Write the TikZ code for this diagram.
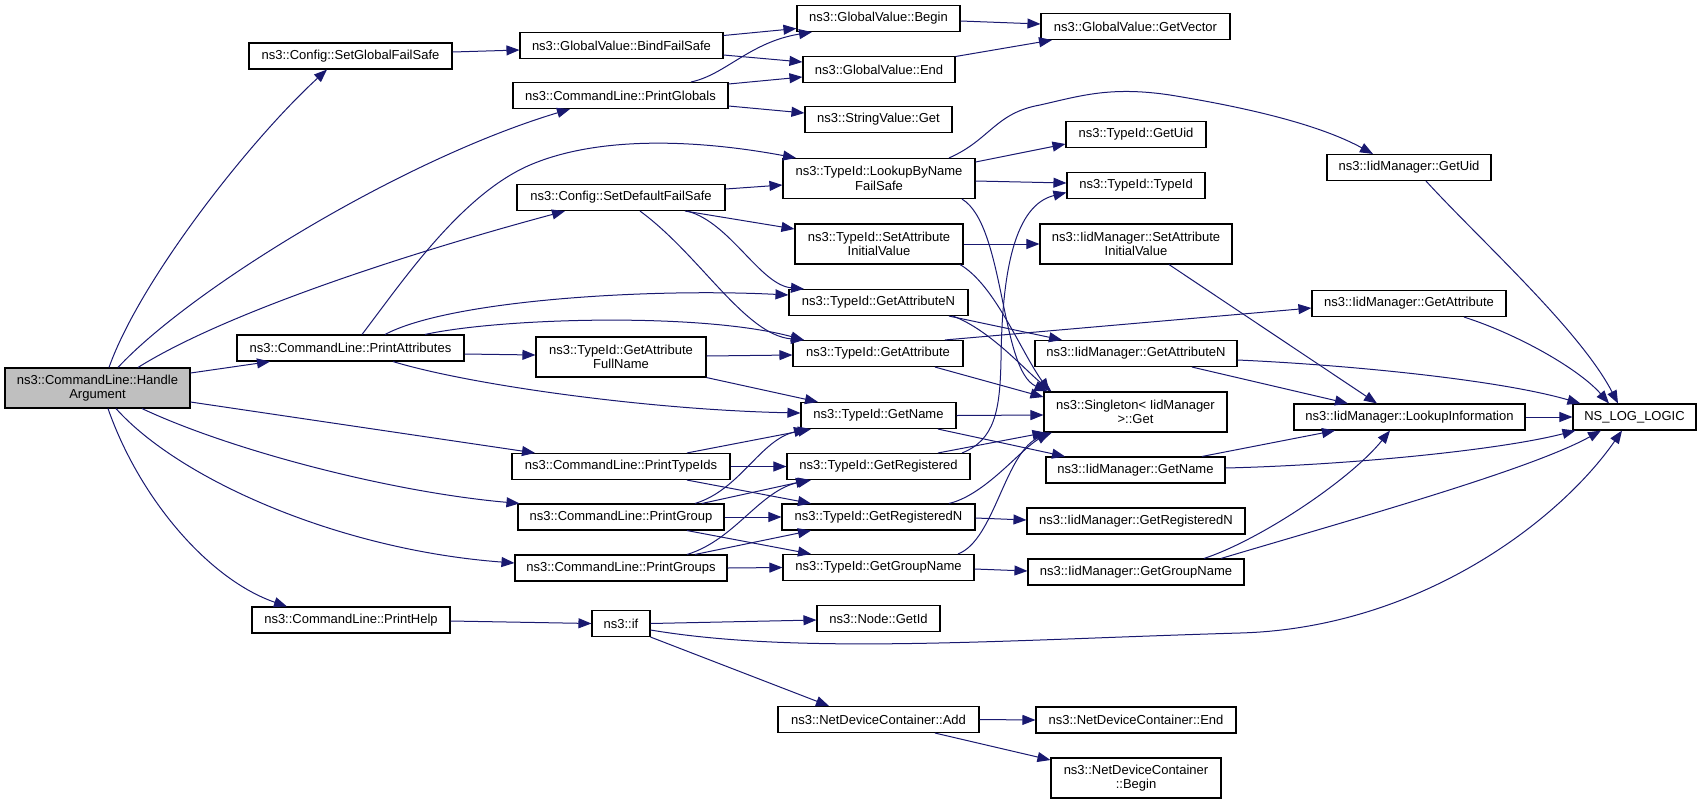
\documentclass[tikz,border=0pt]{standalone}
\usepackage{fontspec}
\setmainfont{Liberation Sans}
\usetikzlibrary{arrows.meta,calc}
\definecolor{edgeblue}{HTML}{191970}
\definecolor{rootgray}{HTML}{BFBFBF}
\tikzset{
  fn/.style={draw=black, line width=1.1pt, fill=white, inner sep=0pt, minimum height=26pt,
    align=center, font=\fontsize{13pt}{14.5pt}\selectfont},
  fntwo/.style={fn, minimum height=40pt},
  call/.style={draw=edgeblue, line width=1pt, -{Triangle[length=13pt,width=10pt]}}
}
\begin{document}
\begin{tikzpicture}[x=1pt,y=-1pt]
\useasboundingbox (0,0) rectangle (1701,804);
% nodes
\node[fntwo, fill=rootgray, minimum width=185pt] (HA) at (97.5,388) {ns3::CommandLine::Handle\\Argument};
\node[fn, minimum width=203pt] (SGFS) at (350.5,56) {ns3::Config::SetGlobalFailSafe};
\node[fn, minimum width=227pt] (PA) at (350.5,348) {ns3::CommandLine::PrintAttributes};
\node[fn, minimum width=198pt] (PH) at (351,620) {ns3::CommandLine::PrintHelp};
\node[fn, minimum width=203pt] (BFS) at (621.5,45.5) {ns3::GlobalValue::BindFailSafe};
\node[fn, minimum width=215pt] (PGl) at (620.5,95.5) {ns3::CommandLine::PrintGlobals};
\node[fn, minimum width=208pt] (SDFS) at (621,197.5) {ns3::Config::SetDefaultFailSafe};
\node[fntwo, minimum width=170pt] (TGAF) at (621,357) {ns3::TypeId::GetAttribute\\FullName};
\node[fn, minimum width=218pt] (PTI) at (621,466.5) {ns3::CommandLine::PrintTypeIds};
\node[fn, minimum width=206pt] (PGr) at (621,517) {ns3::CommandLine::PrintGroup};
\node[fn, minimum width=212pt] (PGs) at (621,568) {ns3::CommandLine::PrintGroups};
\node[fn, minimum width=58pt] (IF) at (621,623.5) {ns3::if};
\node[fn, minimum width=163pt] (GVB) at (878.5,18.5) {ns3::GlobalValue::Begin};
\node[fn, minimum width=152pt] (GVE) at (879,69.5) {ns3::GlobalValue::End};
\node[fn, minimum width=147pt] (SVG) at (878.5,119.5) {ns3::StringValue::Get};
\node[fntwo, minimum width=192pt] (LBN) at (879,178.5) {ns3::TypeId::LookupByName\\FailSafe};
\node[fntwo, minimum width=168pt] (TSAI) at (879,244) {ns3::TypeId::SetAttribute\\InitialValue};
\node[fn, minimum width=179pt] (TGAN) at (878.5,302.5) {ns3::TypeId::GetAttributeN};
\node[fn, minimum width=170pt] (TGA) at (878,353.5) {ns3::TypeId::GetAttribute};
\node[fn, minimum width=155pt] (TGN) at (878.5,415.5) {ns3::TypeId::GetName};
\node[fn, minimum width=183pt] (TGR) at (878.5,466.5) {ns3::TypeId::GetRegistered};
\node[fn, minimum width=193pt] (TGRN) at (878.5,517) {ns3::TypeId::GetRegisteredN};
\node[fn, minimum width=191pt] (TGGN) at (878.5,567.5) {ns3::TypeId::GetGroupName};
\node[fn, minimum width=123pt] (NGI) at (878.5,618.5) {ns3::Node::GetId};
\node[fn, minimum width=201pt] (NDCA) at (878.5,719.5) {ns3::NetDeviceContainer::Add};
\node[fn, minimum width=189pt] (GVV) at (1135.5,26.5) {ns3::GlobalValue::GetVector};
\node[fn, minimum width=140pt] (TGU) at (1136,134.5) {ns3::TypeId::GetUid};
\node[fn, minimum width=138pt] (TTI) at (1136,185.5) {ns3::TypeId::TypeId};
\node[fntwo, minimum width=192pt] (ISAI) at (1136,244) {ns3::IidManager::SetAttribute\\InitialValue};
\node[fn, minimum width=202pt] (IGAN) at (1136,353.5) {ns3::IidManager::GetAttributeN};
\node[fntwo, minimum width=183pt] (SG) at (1135.5,412) {ns3::Singleton< IidManager\\>::Get};
\node[fn, minimum width=179pt] (IGN) at (1135.5,470) {ns3::IidManager::GetName};
\node[fn, minimum width=218pt] (IGRN) at (1136,521) {ns3::IidManager::GetRegisteredN};
\node[fn, minimum width=216pt] (IGGN) at (1136,572) {ns3::IidManager::GetGroupName};
\node[fn, minimum width=200pt] (NDCE) at (1136,720) {ns3::NetDeviceContainer::End};
\node[fntwo, minimum width=170pt] (NDCB) at (1136,778) {ns3::NetDeviceContainer\\::Begin};
\node[fn, minimum width=164pt] (IGU) at (1409,167.5) {ns3::IidManager::GetUid};
\node[fn, minimum width=194pt] (IGA) at (1409,303.5) {ns3::IidManager::GetAttribute};
\node[fn, minimum width=231pt] (ILI) at (1409.5,417) {ns3::IidManager::LookupInformation};
\node[fn, minimum width=123pt] (NLL) at (1634.5,417) {NS\_LOG\_LOGIC};
% edges from HandleArgument
\draw[call] ($(HA.north)+(11.5,0)$) .. controls (140,280) and (250,140) .. ($(SGFS.south)+(-23.5,0)$);
\draw[call] ($(HA.north)+(20.5,0)$) .. controls (190,290) and (400,160) .. ($(PGl.south)+(-50.5,0)$);
\draw[call] ($(HA.north)+(40.5,0)$) .. controls (230,310) and (420,250) .. ($(SDFS.south)+(-56,0)$);
\draw[call] ($(HA.east)+(0,-15)$) -- ($(PA.south)+(-80.5,0)$);
\draw[call] ($(HA.east)+(0,14)$) -- ($(PTI.north)+(-86,0)$);
\draw[call] ($(HA.south)+(44.5,0)$) .. controls (230,450) and (390,492) .. ($(PGr.north west)+(2,0)$);
\draw[call] ($(HA.south)+(18.5,0)$) .. controls (180,480) and (340,550) .. ($(PGs.west)+(0,-5)$);
\draw[call] ($(HA.south)+(10.5,0)$) .. controls (140,500) and (210,580) .. ($(PH.north)+(-64,0)$);
% column 1 / 2
\draw[call] ($(SGFS.east)+(0,-4)$) -- ($(BFS.west)+(0,4.5)$);
\draw[call] ($(BFS.east)+(0,-10)$) -- ($(GVB.west)+(0,10)$);
\draw[call] ($(BFS.east)+(0,9.5)$) -- ($(GVE.west)+(0,-7.5)$);
\draw[call] ($(PGl.north)+(70.5,0)$) .. controls (725,75) and (750,42) .. ($(GVB.south)+(-66.5,0)$);
\draw[call] ($(PGl.east)+(0,-11.5)$) -- ($(GVE.west)+(0,7.5)$);
\draw[call] ($(PGl.east)+(0,10.5)$) -- ($(SVG.west)+(0,-6.5)$);
\draw[call] ($(GVB.east)+(0,2.5)$) -- ($(GVV.west)+(0,-2.5)$);
\draw[call] ($(GVE.east)+(0,-13)$) -- ($(GVV.south)+(-83.5,0)$);
\draw[call] ($(SDFS.east)+(0,-8.5)$) -- ($(LBN.west)+(0,6.5)$);
\draw[call] ($(SDFS.south)+(64,0)$) -- ($(TSAI.west)+(0,-15)$);
\draw[call] ($(SDFS.south)+(66,0)$) .. controls (730,222) and (760,285) .. ($(TGAN.north)+(-74.5,0)$);
\draw[call] ($(SDFS.south)+(19,0)$) .. controls (700,255) and (745,335) .. ($(TGA.north)+(-74,0)$);
\draw[call] ($(LBN.east)+(0,-16.5)$) -- ($(TGU.west)+(0,9.5)$);
\draw[call] ($(LBN.east)+(0,2.5)$) -- ($(TTI.west)+(0,-2.5)$);
\draw[call] ($(LBN.north)+(70,0)$) .. controls (990,140) and (995,113) .. (1040,105) .. controls (1080,96) and (1110,86) .. (1170,95) .. controls (1250,108) and (1320,125) .. ($(IGU.north)+(-36,0)$);
\draw[call] ($(LBN.south)+(83,0)$) .. controls (1005,225) and (1000,370) .. ($(SG.north west)+(4,0)$);
\draw[call] (TSAI.east) -- (ISAI.west);
\draw[call] ($(TSAI.south)+(81,0)$) .. controls (995,285) and (1020,350) .. ($(SG.north west)+(6,0)$);
\draw[call] ($(TGAN.south)+(70.5,0)$) -- ($(IGAN.north)+(-74,0)$);
\draw[call] ($(TGAN.south)+(74.5,0)$) .. controls (990,330) and (1025,370) .. ($(SG.north west)+(8,0)$);
\draw[call] ($(TGA.north)+(67,0)$) -- ($(IGA.west)+(0,4.5)$);
\draw[call] ($(TGA.south)+(57,0)$) -- ($(SG.west)+(0,-15)$);
\draw[call] ($(TGAF.east)+(0,-1)$) -- ($(TGA.west)+(0,1.5)$);
\draw[call] (TGAF.south east) -- ($(TGN.north)+(-60.5,0)$);
% from PrintAttributes
\draw[call] ($(PA.north)+(11.5,0)$) .. controls (400,285) and (460,195) .. (530,165) .. controls (600,135) and (700,140) .. ($(LBN.north)+(-83,0)$);
\draw[call] ($(PA.north)+(34.5,0)$) .. controls (450,300) and (650,288) .. ($(TGAN.west)+(0,-7.5)$);
\draw[call] ($(PA.north)+(74.5,0)$) .. controls (500,318) and (700,312) .. ($(TGA.north)+(-74,0)$);
\draw[call] ($(PA.east)+(0,6)$) -- ($(TGAF.west)+(0,-2)$);
\draw[call] ($(PA.south)+(42.5,0)$) .. controls (470,385) and (650,410) .. ($(TGN.west)+(0,-2.5)$);
% PrintTypeIds / PrintGroup / PrintGroups
\draw[call] ($(PTI.north)+(66,0)$) -- ($(TGN.south)+(-67.5,0)$);
\draw[call] (PTI.east) -- (TGR.west);
\draw[call] ($(PTI.south)+(66,0)$) -- ($(TGRN.north)+(-67.5,0)$);
\draw[call] ($(PGr.north)+(74,0)$) .. controls (740,490) and (760,440) .. ($(TGN.south)+(-71.5,0)$);
\draw[call] ($(PGr.north)+(81,0)$) -- ($(TGR.south)+(-69.5,0)$);
\draw[call] (PGr.east) -- (TGRN.west);
\draw[call] ($(PGr.south)+(66,0)$) -- ($(TGGN.north)+(-67.5,0)$);
\draw[call] ($(PGs.north)+(66,0)$) .. controls (735,540) and (760,490) .. ($(TGR.south)+(-67.5,0)$);
\draw[call] ($(PGs.north)+(74,0)$) -- ($(TGRN.south)+(-67.5,0)$);
\draw[call] (PGs.east) -- (TGGN.west);
% PrintHelp / if
\draw[call] ($(PH.east)+(0,1)$) -- (IF.west);
\draw[call] (IF.east) -- ($(NGI.west)+(0,1.5)$);
\draw[call] ($(IF.east)+(0,6.5)$) .. controls (800,655) and (1000,640) .. (1240,633) .. controls (1420,628) and (1560,520) .. ($(NLL.south)+(-12.5,0)$);
\draw[call] (IF.south east) -- ($(NDCA.north)+(-49.5,0)$);
\draw[call] (NDCA.east) -- (NDCE.west);
\draw[call] ($(NDCA.south)+(56.5,0)$) -- ($(NDCB.west)+(0,-18)$);
% column 3 / 4
\draw[call] ($(ISAI.south)+(33,0)$) -- ($(ILI.north)+(-32.5,0)$);
\draw[call] ($(IGU.south)+(17,0)$) .. controls (1480,240) and (1580,330) .. ($(NLL.north)+(-16.5,0)$);
\draw[call] ($(IGA.south)+(55,0)$) .. controls (1520,335) and (1580,370) .. ($(NLL.north)+(-25.5,0)$);
\draw[call] ($(IGAN.east)+(0,6.5)$) .. controls (1350,365) and (1500,380) .. ($(NLL.north west)+(8,0)$);
\draw[call] ($(IGAN.south)+(56,0)$) -- ($(ILI.north)+(-61.5,0)$);
\draw[call] (TGN.east) -- ($(SG.west)+(0,3)$);
\draw[call] ($(TGN.south)+(59.5,0)$) -- ($(IGN.north)+(-70.5,0)$);
\draw[call] ($(TGR.north)+(59.5,0)$) -- ($(SG.south west)+(2,0)$);
\draw[call] ($(TGR.north)+(83.5,0)$) .. controls (995,440) and (1000,410) .. (1001,360) .. controls (1002,270) and (1015,205) .. ($(TTI.west)+(0,7)$);
\draw[call] ($(TGRN.north)+(70.5,0)$) .. controls (985,495) and (1020,450) .. ($(SG.south)+(-86,0)$);
\draw[call] ($(TGGN.north)+(79.5,0)$) .. controls (995,540) and (1005,450) .. ($(SG.south)+(-83.5,0)$);
\draw[call] ($(TGRN.east)+(0,1)$) -- ($(IGRN.west)+(0,-1)$);
\draw[call] ($(TGGN.east)+(0,1.5)$) -- ($(IGGN.west)+(0,-1)$);
\draw[call] ($(IGN.north)+(66.5,0)$) -- ($(ILI.south)+(-74.5,0)$);
\draw[call] ($(IGN.east)+(0,-2)$) .. controls (1350,465) and (1500,450) .. ($(NLL.south west)+(3,0)$);
\draw[call] ($(IGGN.north)+(68,0)$) .. controls (1260,540) and (1350,480) .. ($(ILI.south)+(-19.5,0)$);
\draw[call] ($(IGGN.north)+(85,0)$) .. controls (1350,520) and (1530,470) .. ($(NLL.south)+(-33.5,0)$);
\draw[call] (ILI.east) -- (NLL.west);
\end{tikzpicture}
\end{document}
